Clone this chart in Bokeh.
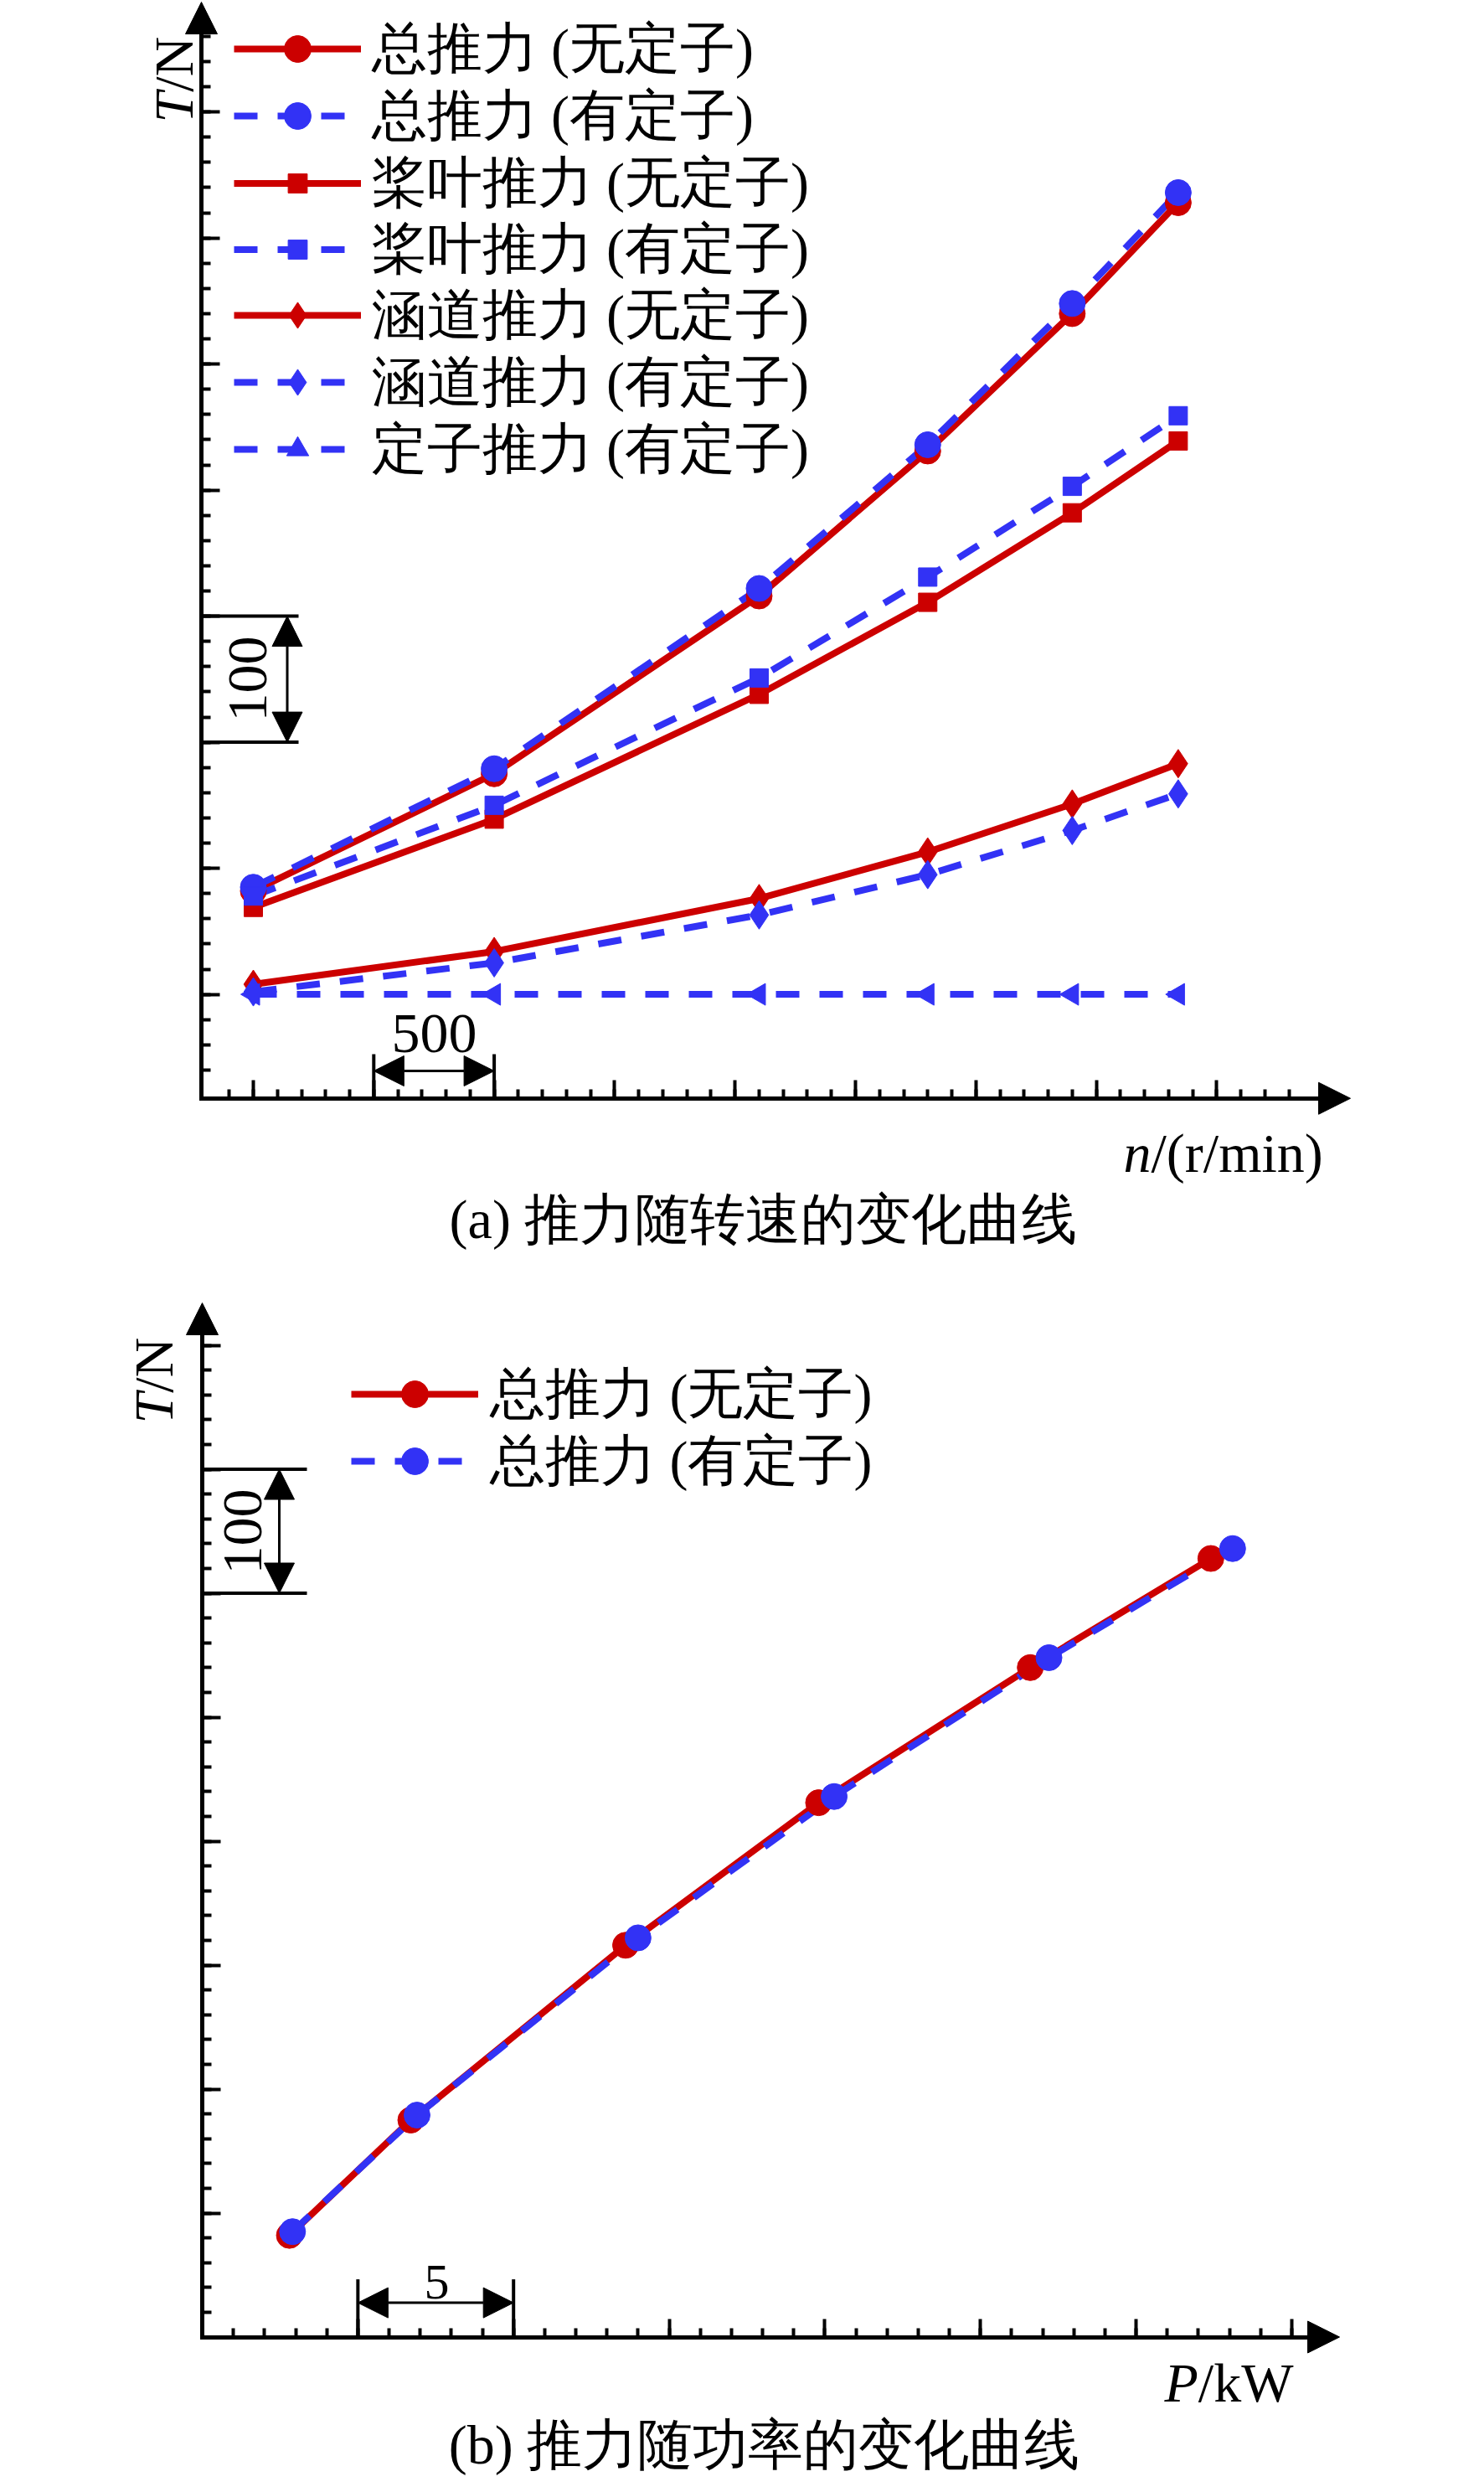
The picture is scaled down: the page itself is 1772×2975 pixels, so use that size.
import numpy as np
from bokeh.plotting import figure
from bokeh.models import (LinearAxis, FixedTicker, CustomJSTickFormatter, Range1d,
                          Arrow, NormalHead, Label, Legend, LegendItem)
from bokeh.layouts import column
from bokeh.embed import file_html
from bokeh.resources import INLINE

# ---------------- data: (a) thrust vs rotating speed ----------------
speed_rpm = [1000, 2000, 3100, 3800, 4400, 4840]
total_no_stator = [82, 175, 316, 431, 540, 628]
total_with_stator = [85, 179, 322, 436, 548, 636]
blade_no_stator = [69, 139, 238, 311, 382, 439]
blade_with_stator = [78, 150, 251, 331, 403, 459]
duct_no_stator = [8, 34, 76, 113, 151, 183]
duct_with_stator = [2, 25, 63, 95, 130, 159]
stator_with_stator = [0, 0, 0, 0, 0, 0]

# ---------------- data: (b) thrust vs power ----------------
power_no_stator = [2.8, 6.7, 13.6, 19.8, 26.6, 32.4]
power_with_stator = [2.9, 6.9, 14.0, 20.3, 27.2, 33.1]

legend_a = ["总推力 (无定子)", "总推力 (有定子)", "桨叶推力 (无定子)", "桨叶推力 (有定子)",
            "涵道推力 (无定子)", "涵道推力 (有定子)", "定子推力 (有定子)"]
legend_b = ["总推力 (无定子)", "总推力 (有定子)"]
caption_a = "(a) 推力随转速的变化曲线"
caption_b = "(b) 推力随功率的变化曲线"

x_ticks_a = list(range(1000, 5001, 500))
x_minor_a = list(range(900, 5301, 100))
y_ticks_a = list(range(0, 701, 100))
y_minor_a = list(range(-60, 761, 20))
x_ticks_b = list(range(5, 36, 5))
x_minor_b = list(range(1, 36))
y_ticks_b = list(range(100, 801, 100))
y_minor_b = list(range(20, 801, 20))

# ---------------- styling ----------------
RED = "#CC0000"
BLUE = "#3232F5"
FONT = "Liberation Serif"
LW = 8
DASH = "28 24"

W = 1750
HA = 1500
HB = 1459
TOP_A = 8
TOP_B = 8 + HA
LEFT = 8
BASE_SHIFT = 0.216   # em offset between requested and drawn alphabetic baseline
ROW_H = 90           # measured height of one legend row


# page-pixel calibration of each panel
def ax(px):  # page x -> rpm
    return 1000 + (px - 310) / 0.2876
def ay(py):  # page y -> N (panel a)
    return (1194.6 - py) / 1.505
def bx(px):  # page x -> kW
    return (px - 249) / 37.17
def by(py):  # page y -> N (panel b)
    return (2797.5 - py) / 1.48


def make_fig(xr, yr, h):
    p = figure(width=W, height=h, x_range=Range1d(*xr), y_range=Range1d(*yr),
               x_axis_type=None, y_axis_type=None, output_backend="svg",
               toolbar_location=None, min_border=0)
    p.outline_line_color = None
    p.grid.visible = False
    return p


def axis_style():
    return dict(axis_line_width=5, axis_line_color="black", axis_line_cap="square",
                major_tick_line_width=4, minor_tick_line_width=4,
                major_tick_line_color="black", minor_tick_line_color="black",
                major_tick_in=22, major_tick_out=0, minor_tick_in=11, minor_tick_out=0,
                major_label_standoff=0, major_label_text_font_size="1px",
                formatter=CustomJSTickFormatter(code="return ''"))


def add_axes(p, x0, y0, x_base, x_tip, y_base, y_tip, xt, xm, yt, ym):
    xa = LinearAxis(fixed_location=y0, bounds=(x0, x_base),
                    ticker=FixedTicker(ticks=xt, minor_ticks=xm), **axis_style())
    p.add_layout(xa, "below")
    ya = LinearAxis(fixed_location=x0, bounds=(y0, y_base),
                    ticker=FixedTicker(ticks=yt, minor_ticks=ym), **axis_style())
    p.add_layout(ya, "left")
    p.add_layout(Arrow(end=NormalHead(size=38, fill_color="black", line_color="black", line_width=1),
                       x_start=x_base, y_start=y0, x_end=x_tip, y_end=y0,
                       line_width=5, line_color="black"))
    p.add_layout(Arrow(end=NormalHead(size=38, fill_color="black", line_color="black", line_width=1),
                       x_start=x0, y_start=y_base, x_end=x0, y_end=y_tip,
                       line_width=5, line_color="black"))


def dbl_arrow(p, xs, ys, xe, ye):
    p.add_layout(Arrow(start=NormalHead(size=36, fill_color="black", line_color="black", line_width=1),
                       end=NormalHead(size=36, fill_color="black", line_color="black", line_width=1),
                       x_start=xs, y_start=ys, x_end=xe, y_end=ye,
                       line_width=3, line_color="black"))


def label(p, fx, fy, px, py, text, size=66, style="normal", rotated=False, align="left"):
    """px/py: page position of the text's alphabetic baseline anchor."""
    shift = BASE_SHIFT * size
    if rotated:
        px = px - shift
    else:
        py = py - shift
    p.add_layout(Label(x=fx(px), y=fy(py), text=text, text_font=FONT,
                       text_font_size=f"{size}px", text_font_style=style,
                       angle=(np.pi / 2 if rotated else 0.0), text_align=align,
                       text_baseline="alphabetic", text_color="black"))


def legend_row(p, item, fig_top, fig_h, glyph_left, row_center, standoff, glyph_h):
    """One legend entry, placed so that its row is centred on page y = row_center."""
    loc = (glyph_left - LEFT, fig_h - (row_center - fig_top) - ROW_H / 2)
    leg = Legend(items=[item], location=loc, orientation="vertical",
                 glyph_width=152, glyph_height=glyph_h, label_height=80, spacing=0,
                 padding=0, margin=0, label_standoff=standoff,
                 label_text_font=FONT, label_text_font_size="66px",
                 label_text_line_height=1.0, label_text_color="black",
                 border_line_color=None, background_fill_alpha=0)
    p.add_layout(leg)


# =============================== panel (a) ===============================
pa = make_fig((ax(LEFT), ax(LEFT + W)), (ay(TOP_A + HA), ay(TOP_A)), HA)
xa0 = ax(248)
ya0 = -82.5
add_axes(pa, xa0, ya0, ax(1584), ax(1620), ay(46), ay(10),
         x_ticks_a, x_minor_a, y_ticks_a, y_minor_a)

# (values, colour, dash, marker, size, angle, legend glyph height)
series_a = [
    (total_no_stator, RED, None, "circle", 31, 0.0, 80),
    (total_with_stator, BLUE, DASH, "circle", 31, 0.0, 80),
    (blade_no_stator, RED, None, "square", 22, 0.0, 57),
    (blade_with_stator, BLUE, DASH, "square", 22, 0.0, 57),
    (duct_no_stator, RED, None, "diamond", 34, 0.0, 78),
    (duct_with_stator, BLUE, DASH, "diamond", 34, 0.0, 78),
    (stator_with_stator, BLUE, DASH, "triangle", 26, np.pi / 2, 66),
]
line_r, mark_r = {}, {}
for order in (RED, BLUE):
    for k, (vals, col, dash, mk, sz, ang, gh) in enumerate(series_a):
        if col != order:
            continue
        kw = dict(line_dash=dash) if dash else {}
        line_r[k] = pa.line(speed_rpm, vals, line_color=col, line_width=LW, **kw)
for order in (RED, BLUE):
    for k, (vals, col, dash, mk, sz, ang, gh) in enumerate(series_a):
        if col != order:
            continue
        mark_r[k] = pa.scatter(speed_rpm, vals, marker=mk, size=sz, angle=ang,
                               fill_color=col, line_color=col)
rows_a = [66, 146, 226, 305, 384, 464, 544]
for k, lab in enumerate(legend_a):
    legend_row(pa, LegendItem(label=lab, renderers=[line_r[k], mark_r[k]]),
               TOP_A, HA, 286.6, rows_a[k], 13, series_a[k][6])

# scale bars (a)
bar_x_end = ax(364)
pa.segment(x0=[xa0, xa0], y0=[200, 300], x1=[bar_x_end, bar_x_end], y1=[200, 300],
           line_color="black", line_width=4)
dbl_arrow(pa, ax(350.5), 200, ax(350.5), 300)
label(pa, ax, ay, 318, 818, "100", size=68, rotated=True, align="center")
pa.segment(x0=[1500, 2000], y0=[ya0, ya0], x1=[1500, 2000], y1=[ay(1266), ay(1266)],
           line_color="black", line_width=4)
dbl_arrow(pa, 1500, ay(1286), 2000, ay(1286))
label(pa, ax, ay, 526, 1256, "500", size=68, align="center")

# axis titles (a)
label(pa, ax, ay, 229, 154, "T", style="italic", rotated=True)
label(pa, ax, ay, 229, 154 - 36.7, "/N", rotated=True)
label(pa, ax, ay, 1349, 1398, "n", style="italic")
label(pa, ax, ay, 1349 + 33, 1398, "/(r/min)")
label(pa, ax, ay, 919, 1477, caption_a, align="center")

# =============================== panel (b) ===============================
pb = make_fig((bx(LEFT), bx(LEFT + W)), (by(TOP_B + HB), by(TOP_B)), HB)
xb0 = 0.0
yb0 = 0.0
add_axes(pb, xb0, yb0, bx(1571), bx(1607), by(1598), by(1563),
         x_ticks_b, x_minor_b, y_ticks_b, y_minor_b)

lr = pb.line(power_no_stator, total_no_stator, line_color=RED, line_width=LW)
lb = pb.line(power_with_stator, total_with_stator, line_color=BLUE, line_width=LW, line_dash=DASH)
mr = pb.scatter(power_no_stator, total_no_stator, marker="circle", size=31,
                fill_color=RED, line_color=RED)
mb = pb.scatter(power_with_stator, total_with_stator, marker="circle", size=31,
                fill_color=BLUE, line_color=BLUE)
legend_row(pb, LegendItem(label=legend_b[0], renderers=[lr, mr]), TOP_B, HB, 427, 1672, 14, 80)
legend_row(pb, LegendItem(label=legend_b[1], renderers=[lb, mb]), TOP_B, HB, 427, 1752, 14, 80)

# scale bars (b)
bbar_end = bx(374)
pb.segment(x0=[xb0, xb0], y0=[600, 700], x1=[bbar_end, bbar_end], y1=[600, 700],
           line_color="black", line_width=4)
dbl_arrow(pb, bx(341), 600, bx(341), 700)
label(pb, bx, by, 312, 1836, "100", size=68, rotated=True, align="center")
pb.segment(x0=[5, 10], y0=[yb0, yb0], x1=[5, 10], y1=[by(2728.6), by(2728.6)],
           line_color="black", line_width=4)
dbl_arrow(pb, 5, by(2756.6), 10, by(2756.6))
label(pb, bx, by, 529, 2745, "5", size=60, align="center")

# axis titles (b)
label(pb, bx, by, 205, 1707, "T", style="italic", rotated=True)
label(pb, bx, by, 205, 1707 - 36.7, "/N", rotated=True)
label(pb, bx, by, 1398, 2866.5, "P", style="italic")
label(pb, bx, by, 1398 + 40.3, 2866.5, "/kW")
label(pb, bx, by, 920, 2940, caption_b, align="center")

layout = column(pa, pb, spacing=0)
open("out.html", "w").write(file_html(layout, INLINE))
